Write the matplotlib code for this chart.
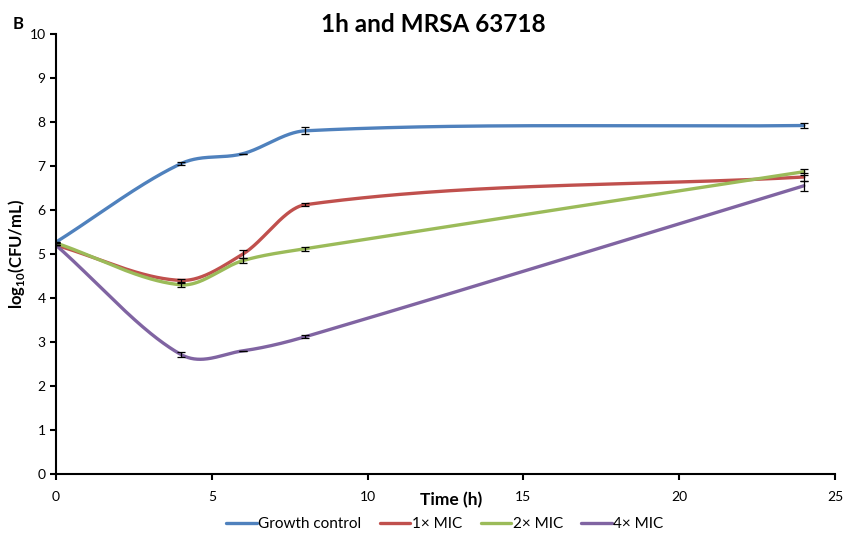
import numpy as np
import matplotlib
matplotlib.use("Agg")
import matplotlib.pyplot as plt

plt.rcParams['font.family'] = ['Lato', 'DejaVu Sans']
plt.rcParams['mathtext.fontset'] = 'custom'
plt.rcParams['mathtext.rm'] = 'Lato'
plt.rcParams['mathtext.bf'] = 'Lato:bold'

time = [0, 4, 6, 8, 24]
series_names = ["Growth control", "1× MIC", "2× MIC", "4× MIC"]
growth = [5.27, 7.05, 7.28, 7.80, 7.92]
mic1 = [5.20, 4.40, 5.00, 6.12, 6.75]
mic2 = [5.25, 4.30, 4.85, 5.12, 6.87]
mic4 = [5.20, 2.72, 2.80, 3.12, 6.55]
err_growth = [0.0, 0.03, 0.0, 0.08, 0.05]
err_mic1 = [0.0, 0.03, 0.08, 0.03, 0.10]
err_mic2 = [0.0, 0.05, 0.06, 0.05, 0.07]
err_mic4 = [0.0, 0.06, 0.0, 0.03, 0.12]
colors = ["#4F81BD", "#C0504D", "#9BBB59", "#8064A2"]


def smooth(xs, ys, n=80):
    xs = np.asarray(xs, float); ys = np.asarray(ys, float)
    m = np.zeros_like(ys)
    m[0] = (ys[1] - ys[0]) / (xs[1] - xs[0])
    m[-1] = (ys[-1] - ys[-2]) / (xs[-1] - xs[-2])
    for i in range(1, len(xs) - 1):
        m[i] = (ys[i + 1] - ys[i - 1]) / (xs[i + 1] - xs[i - 1])
    ox, oy = [xs[0]], [ys[0]]
    for i in range(len(xs) - 1):
        h = xs[i + 1] - xs[i]
        s = np.linspace(0, 1, n)[1:]
        h00 = 2 * s**3 - 3 * s**2 + 1
        h10 = s**3 - 2 * s**2 + s
        h01 = -2 * s**3 + 3 * s**2
        h11 = s**3 - s**2
        y = h00 * ys[i] + h10 * h * m[i] + h01 * ys[i + 1] + h11 * h * m[i + 1]
        ox.extend(xs[i] + s * h); oy.extend(y)
    return np.array(ox), np.array(oy)


fig = plt.figure(figsize=(8.48, 5.42), dpi=100)
ax = fig.add_axes([56 / 848, 68 / 542, 779 / 848, 440 / 542])

data = [growth, mic1, mic2, mic4]
errs = [err_growth, err_mic1, err_mic2, err_mic4]
for name, ys, c in zip(series_names, data, colors):
    sx, sy = smooth(time, ys)
    ax.plot(sx, sy, color=c, lw=2.4, label=name, solid_capstyle='round')
for ys, es in zip(data, errs):
    ax.errorbar(time, ys, yerr=es, fmt='none', ecolor='black', elinewidth=0.9, capsize=3, capthick=0.9)

ax.set_xlim(0, 25)
ax.set_ylim(0, 10)
ax.set_xticks([0, 5, 10, 15, 20, 25])
ax.set_yticks(range(0, 11))
for s in ['top', 'right']:
    ax.spines[s].set_visible(False)
for s in ['left', 'bottom']:
    ax.spines[s].set_linewidth(1.5)
ax.tick_params(axis='both', direction='out', length=4, width=1.5, labelsize=10)
ax.tick_params(axis='x', pad=8)

ax.set_ylabel(r"log$_{\mathbf{10}}$(CFU/mL)", fontsize=12, fontweight='bold')
ax.yaxis.set_label_coords(-29 / 779, 0.5)
fig.text(451 / 848, 1 - 500 / 542, "Time (h)", ha='center', va='center', fontsize=12.5, fontweight='bold')
fig.text(433 / 848, 1 - 24 / 542, "1h and MRSA 63718", ha='center', va='center', fontsize=17.5, fontweight='bold')
fig.text(18 / 848, 1 - 24 / 542, "B", ha='center', va='center', fontsize=12, fontweight='bold')

leg = fig.legend(loc='center', bbox_to_anchor=(445 / 848, 1 - 524 / 542), ncol=4, frameon=False,
                 fontsize=11, handlelength=2.0, handletextpad=0.1, columnspacing=1.2)

fig.savefig("out.png", dpi=100)
